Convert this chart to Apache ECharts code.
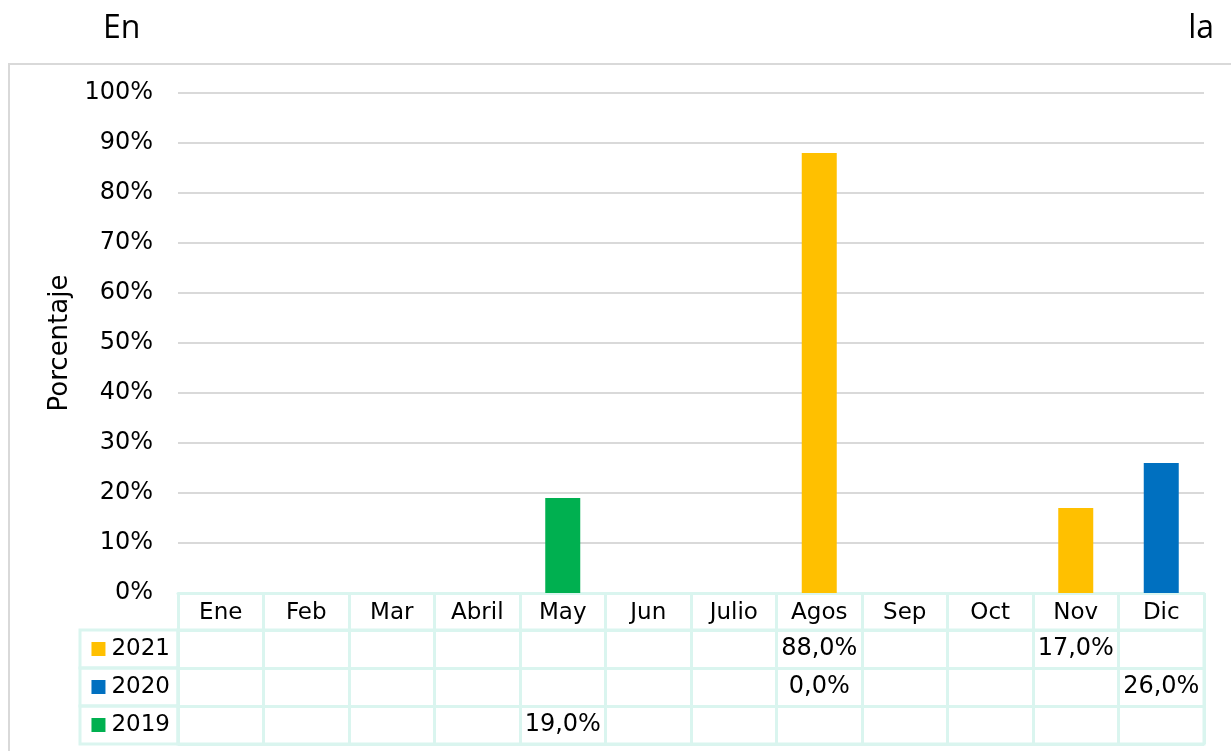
<!DOCTYPE html>
<html>
<head>
<meta charset="utf-8">
<script src="https://cdn.jsdelivr.net/npm/echarts@6/dist/echarts.min.js"></script>
<style>
  html, body { margin: 0; padding: 0; background: #fff; }
  #chart { width: 1231px; height: 751px; }
</style>
</head>
<body>
<div id="chart"></div>
<script>
const months = ['Ene', 'Feb', 'Mar', 'Abril', 'May', 'Jun', 'Julio', 'Agos', 'Sep', 'Oct', 'Nov', 'Dic']
const yearNames = ['2021', '2020', '2019']
const values2021 = [null, null, null, null, null, null, null, 88, null, null, 17, null]
const values2020 = [null, null, null, null, null, null, null, 0, null, null, null, 26]
const values2019 = [null, null, null, null, 19, null, null, null, null, null, null, null]
const yTicks = [0, 100, 10]
const colors = ['#FFC000', '#0070C0', '#00B050']

const FONT = 'DejaVu Sans'
const TEAL = '#daf5ef'
const seriesValues = [values2021, values2020, values2019]

// cells of the data table: [month, year, value]
const cells = []
seriesValues.forEach((vals, r) => {
  vals.forEach((v, i) => {
    if (v !== null) cells.push([months[i], yearNames[r], v])
  })
})

const fmt = v => v.toFixed(1).replace('.', ',') + '%'

const rich = {}
colors.forEach((c, i) => {
  rich['sq' + i] = { width: 14, height: 14, backgroundColor: c }
  rich['t' + i] = { fontFamily: FONT, fontSize: 23, color: '#000', padding: [0, 0, 0, 6], lineHeight: 38 }
})

const chart = echarts.init(document.getElementById('chart'))
chart.setOption({
  animation: false,
  textStyle: { fontFamily: FONT },
  title: [
    { text: 'En', left: 98, top: 8, textStyle: { fontFamily: 'Open Sans', fontSize: 32, fontWeight: 'normal', color: '#000' } },
    { text: 'la', right: 12, top: 8, textStyle: { fontFamily: 'Open Sans', fontSize: 32, fontWeight: 'normal', color: '#000' } }
  ],
  graphic: [{
    type: 'rect',
    silent: true,
    shape: { x: 9, y: 64, width: 1260, height: 720 },
    style: { fill: 'none', stroke: '#d9d9d9', lineWidth: 2 }
  }],
  grid: [
    { left: 178, right: 27, top: 93, bottom: 158 },
    { left: 178, right: 27, top: 630, height: 114, show: true, borderColor: TEAL, borderWidth: 3, backgroundColor: 'transparent' }
  ],
  xAxis: [
    {
      type: 'category',
      gridIndex: 0,
      data: months,
      axisLine: { lineStyle: { color: TEAL, width: 3 } },
      axisTick: { show: true, interval: 0, length: 37, lineStyle: { color: TEAL, width: 3 } },
      axisLabel: { interval: 0, fontSize: 23, color: '#000', margin: 9, fontFamily: FONT }
    },
    {
      type: 'category',
      gridIndex: 1,
      data: months,
      axisLine: { show: false },
      axisTick: { show: false },
      axisLabel: { show: false },
      splitLine: { show: true, interval: 0, lineStyle: { color: TEAL, width: 3 } }
    }
  ],
  yAxis: [
    {
      type: 'value',
      gridIndex: 0,
      min: yTicks[0],
      max: yTicks[1],
      interval: yTicks[2],
      name: 'Porcentaje',
      nameLocation: 'middle',
      nameGap: 104,
      nameRotate: 90,
      nameTextStyle: { fontSize: 26, color: '#000', fontFamily: FONT },
      axisLine: { show: false },
      axisTick: { show: false },
      axisLabel: { formatter: '{value}%', fontSize: 24, color: '#000', margin: 25, fontFamily: FONT },
      splitLine: { lineStyle: { color: '#d9d9d9', width: 2 } }
    },
    {
      type: 'category',
      gridIndex: 1,
      inverse: true,
      data: yearNames,
      axisLine: { show: false },
      axisTick: { show: false },
      splitLine: { show: true, interval: 0, lineStyle: { color: TEAL, width: 3 } },
      axisLabel: {
        interval: 0,
        margin: 0,
        align: 'right',
        verticalAlign: 'middle',
        width: 80,
        height: 38,
        lineHeight: 38,
        padding: [0, 8, 0, 10],
        borderColor: TEAL,
        borderWidth: 3,
        formatter: (v, i) => '{sq' + i + '|}{t' + i + '|' + v + '}',
        rich: rich
      }
    }
  ],
  series: [
    ...yearNames.map((name, r) => ({
      name: name,
      type: 'bar',
      stack: 'total',
      xAxisIndex: 0,
      yAxisIndex: 0,
      barWidth: 35,
      itemStyle: { color: colors[r] },
      data: seriesValues[r]
    })),
    {
      type: 'scatter',
      xAxisIndex: 1,
      yAxisIndex: 1,
      symbolSize: 0,
      silent: true,
      data: cells,
      itemStyle: { opacity: 1 },
      label: {
        show: true,
        position: 'inside',
        fontSize: 24,
        color: '#000',
        opacity: 1,
        textBorderWidth: 0,
        fontFamily: FONT,
        formatter: p => fmt(p.data[2])
      }
    }
  ]
})
</script>
</body>
</html>
